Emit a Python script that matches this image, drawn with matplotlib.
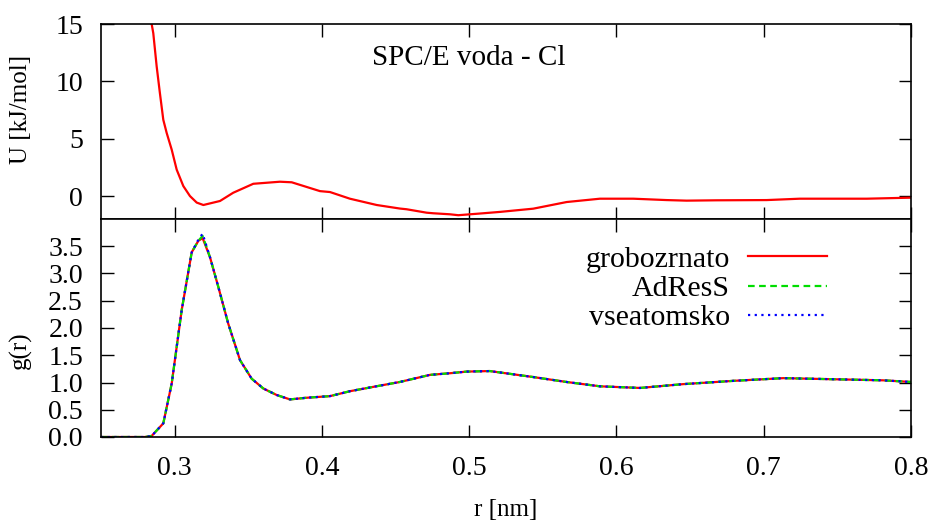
import matplotlib
matplotlib.use("Agg")
import matplotlib.pyplot as plt

plt.rcParams['font.family'] = ['Liberation Serif', 'DejaVu Serif']

# Potential U(r)
r_U = [0.2844, 0.2855, 0.2878, 0.29, 0.2923, 0.2946, 0.298, 0.3014, 0.3059, 0.3104,
       0.315, 0.3195, 0.3308, 0.3398, 0.3534, 0.3715, 0.3795,
       0.3987, 0.4055, 0.419, 0.4372, 0.453, 0.4575, 0.4711, 0.4756, 0.487, 0.4926,
       0.5096, 0.521, 0.5435, 0.5662, 0.5888, 0.6114, 0.634, 0.6476, 0.668, 0.702,
       0.7245, 0.77, 0.8]
U = [15.0, 14.2, 11.3, 8.97, 6.65, 5.5, 4.05, 2.3, 0.87, 0.0,
     -0.57, -0.78, -0.43, 0.29, 1.07, 1.25, 1.2,
     0.43, 0.35, -0.23, -0.78, -1.09, -1.15, -1.45, -1.5, -1.59, -1.67,
     -1.5, -1.38, -1.1, -0.52, -0.23, -0.23, -0.35, -0.4, -0.37, -0.35,
     -0.23, -0.23, -0.14]

# RDF g(r)
r_g = [0.25, 0.26, 0.27, 0.28, 0.2844, 0.2923, 0.298, 0.3048, 0.3116, 0.3161, 0.319,
       0.324, 0.3297, 0.3364, 0.3444, 0.3523, 0.3602, 0.3693, 0.3783, 0.3896, 0.4055,
       0.419, 0.4349, 0.453, 0.4734, 0.487, 0.4983, 0.514, 0.5435, 0.566, 0.5888,
       0.616, 0.6453, 0.6793, 0.7133, 0.747, 0.781, 0.8]
g_cg = [0, 0, 0, 0, 0.02, 0.25, 0.98, 2.33, 3.39, 3.6, 3.65,
        3.3, 2.75, 2.08, 1.41, 1.07, 0.89, 0.77, 0.69, 0.72, 0.75,
        0.84, 0.92, 1.01, 1.14, 1.17, 1.2, 1.21, 1.1, 1.01, 0.93,
        0.9, 0.97, 1.03, 1.08, 1.06, 1.04, 1.01]
g_adress = [0, 0, 0, 0, 0.02, 0.25, 0.98, 2.33, 3.39, 3.6, 3.69,
            3.3, 2.75, 2.08, 1.41, 1.07, 0.89, 0.77, 0.69, 0.72, 0.75,
            0.84, 0.92, 1.01, 1.14, 1.17, 1.2, 1.21, 1.1, 1.01, 0.93,
            0.9, 0.97, 1.03, 1.08, 1.06, 1.04, 1.01]
g_aa = [0, 0, 0, 0, 0.02, 0.25, 0.98, 2.33, 3.39, 3.62, 3.73,
        3.3, 2.75, 2.08, 1.41, 1.07, 0.89, 0.77, 0.69, 0.72, 0.75,
        0.84, 0.92, 1.01, 1.14, 1.17, 1.2, 1.21, 1.1, 1.01, 0.93,
        0.9, 0.97, 1.03, 1.08, 1.06, 1.04, 1.01]

labels = ["grobozrnato", "AdResS", "vseatomsko"]
x_ticks = [0.3, 0.4, 0.5, 0.6, 0.7, 0.8]
U_ticks = [0, 5, 10, 15]
g_ticks = [0.0, 0.5, 1.0, 1.5, 2.0, 2.5, 3.0, 3.5]

fig = plt.figure(figsize=(9.36, 5.21), dpi=100)
L, R = 101 / 936, 911 / 936
ax1 = fig.add_axes([L, 1 - 219 / 521, R - L, (219 - 24) / 521])
ax2 = fig.add_axes([L, 1 - 437 / 521, R - L, (437 - 219) / 521])

tick_fs = 20
for ax in (ax1, ax2):
    ax.set_xlim(0.25, 0.8)
    ax.set_xticks(x_ticks)
    ax.tick_params(direction='in', length=9, width=1, top=True, right=True,
                   labelsize=tick_fs)
    ax.tick_params(axis='y', pad=13)
    ax.tick_params(axis='x', pad=13.5)
    for s in ax.spines.values():
        s.set_linewidth(1.2)

ax1.plot(r_U, U, color='#ff0000', lw=1.6)
ax1.set_ylim(-2, 15)
ax1.set_yticks(U_ticks)
ax1.tick_params(labelbottom=False)
ax1.set_ylabel("U [kJ/mol]", fontsize=18)
ax1.yaxis.set_label_coords(-0.085, 0.56)
ax1.text(0.5, 12.05, "SPC/E voda - Cl", fontsize=21, ha='center', va='center')

ax2.plot(r_g, g_cg, color='#ff0000', lw=1.6, label=labels[0])
ax2.plot(r_g, g_adress, color='#00dd00', lw=1.6, ls=(0, (3, 2)), label=labels[1])
ax2.plot(r_g, g_aa, color='#0000ff', lw=1.6, ls=(0, (1, 2)), label=labels[2])
ax2.set_ylim(0, 4)
ax2.set_yticks(g_ticks)
ax2.set_yticklabels([f"{v:.1f}" for v in g_ticks])
ax2.set_ylabel("g(r)", fontsize=18)
ax2.yaxis.set_label_coords(-0.085, 0.40)
ax2.set_xlabel("r [nm]", fontsize=18)
ax2.xaxis.set_label_coords(0.5, -0.285)

ax2.legend(loc='upper right', bbox_to_anchor=(827 / 936, 1 - 246 / 521),
           bbox_transform=fig.transFigure, frameon=False, markerfirst=False,
           fontsize=21.5, handlelength=2.65, handletextpad=0.6, labelspacing=0.08,
           borderpad=0, borderaxespad=0)

fig.savefig("out.png", dpi=100)
